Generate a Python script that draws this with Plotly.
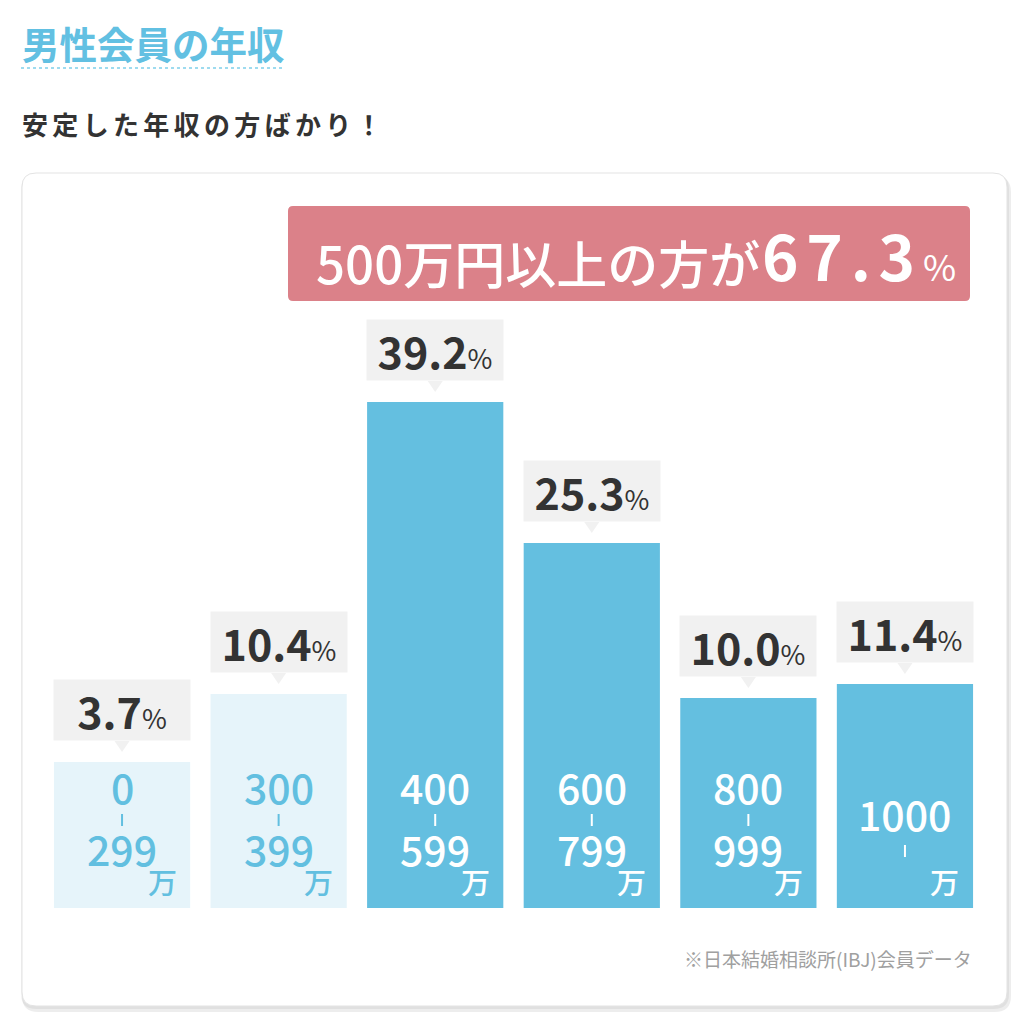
import plotly.graph_objects as go

#### datos: distribucion del ingreso anual de los socios
brackets = ["0〜299万", "300〜399万", "400〜599万", "600〜799万", "800〜999万", "1000万〜"]
low_labels = ["0", "300", "400", "600", "800", "1000"]
high_labels = ["299", "399", "599", "799", "999", ""]
shares = [3.7, 10.4, 39.2, 25.3, 10.0, 11.4]
highlight = [False, False, True, True, True, True]
banner_label = "500万円以上の方が"
banner_share = "67.3"

OFF = 8              # margen del body en la pagina html
W, H = 1024 - OFF, 1019 - OFF
FONT = "Noto Sans CJK JP"
BLUE = "#64bfe0"
LIGHT = "#e6f4fa"
PXU = 10.14          # pixeles por punto porcentual
FOOT = 10.7          # pie fijo de cada barra (zona del rango de ingresos)
Y_BOTTOM, Y_TOP = 908, 180
SP = "\u200a\u200a"  # espaciado entre letras del banner


def fx(x):
    return (x - OFF) / W


def fy(y):
    return 1 - (y - OFF) / H


def rrect(x0, y0, x1, y1, r):
    ## rectangulo redondeado en coordenadas de papel a partir de pixeles
    pts = [
        f"M {fx(x0 + r)},{fy(y0)}",
        f"L {fx(x1 - r)},{fy(y0)}",
        f"Q {fx(x1)},{fy(y0)} {fx(x1)},{fy(y0 + r)}",
        f"L {fx(x1)},{fy(y1 - r)}",
        f"Q {fx(x1)},{fy(y1)} {fx(x1 - r)},{fy(y1)}",
        f"L {fx(x0 + r)},{fy(y1)}",
        f"Q {fx(x0)},{fy(y1)} {fx(x0)},{fy(y1 - r)}",
        f"L {fx(x0)},{fy(y0 + r)}",
        f"Q {fx(x0)},{fy(y0)} {fx(x0 + r)},{fy(y0)}",
        "Z",
    ]
    return " ".join(pts)


bar_colors = [BLUE if h else LIGHT for h in highlight]
text_colors = ["white" if h else "#62bfe0" for h in highlight]

fig = go.Figure()
fig.add_trace(go.Bar(
    x=brackets,
    y=[v + FOOT for v in shares],
    base=-FOOT,
    width=0.87,
    marker=dict(color=bar_colors, line=dict(width=0)),
    hoverinfo="skip",
))

shapes = []
## tarjeta con sombra
shapes.append(dict(type="path", xref="paper", yref="paper", layer="below",
                   path=rrect(22, 176, 1011, 1012, 16), fillcolor="rgba(0,0,0,0.07)", line=dict(width=0)))
shapes.append(dict(type="path", xref="paper", yref="paper", layer="below",
                   path=rrect(21, 174, 1009, 1009, 15), fillcolor="rgba(0,0,0,0.05)", line=dict(width=0)))
shapes.append(dict(type="path", xref="paper", yref="paper", layer="below",
                   path=rrect(22, 173, 1007, 1006, 14), fillcolor="white", line=dict(color="#e3e3e3", width=1)))
## banner rosado
shapes.append(dict(type="path", xref="paper", yref="paper", layer="below",
                   path=rrect(288, 206, 970, 301, 5), fillcolor="#db8189", line=dict(width=0)))
## subrayado punteado del titulo
shapes.append(dict(type="line", xref="paper", yref="paper",
                   x0=fx(21), x1=fx(284), y0=fy(68), y1=fy(68),
                   line=dict(color="#7fd0ea", width=1.5, dash="3px,3px")))

annotations = []
for i, cat in enumerate(brackets):
    top = shares[i]
    ## caja gris con el porcentaje
    annotations.append(dict(
        x=cat, y=top, xref="x", yref="y", xanchor="center", yanchor="bottom",
        yshift=21, width=136, height=60, bgcolor="#f1f1f1", borderpad=0,
        showarrow=False, align="center", valign="middle",
        text=f"<b>{shares[i]:.1f}</b><span style='font-size:27px'>%</span>",
        font=dict(family=FONT, size=43, color="#333333"),
    ))
    ## flecha de la caja
    shapes.append(dict(
        type="path", xref="x", yref="y",
        path=f"M {i - 0.048},{top + 21 / PXU} L {i + 0.048},{top + 21 / PXU} L {i},{top + 10 / PXU} Z",
        fillcolor="#f1f1f1", line=dict(width=0),
    ))
    ## rango de ingresos dentro de la barra
    col = text_colors[i]
    if high_labels[i]:
        shifts = (122, 88, 60)
    else:
        shifts = (95, 57, None)
    annotations.append(dict(x=cat, y=-FOOT, xref="x", yref="y", yanchor="middle", yshift=shifts[0],
                            showarrow=False, text=low_labels[i],
                            font=dict(family=FONT, size=41, color=col, weight=500)))
    ## guion vertical entre los dos limites
    shapes.append(dict(type="line", xref="x", yref="y", x0=i, x1=i,
                       y0=-FOOT + (shifts[1] - 6) / PXU, y1=-FOOT + (shifts[1] + 6) / PXU,
                       line=dict(color=col, width=2)))
    if shifts[2] is not None:
        annotations.append(dict(x=cat, y=-FOOT, xref="x", yref="y", yanchor="middle", yshift=shifts[2],
                                showarrow=False, text=high_labels[i],
                                font=dict(family=FONT, size=41, color=col, weight=500)))
    annotations.append(dict(x=cat, y=-FOOT, xref="x", yref="y", yanchor="middle", yshift=27, xshift=40,
                            showarrow=False, text="万",
                            font=dict(family=FONT, size=29, color=col, weight=500)))

## titulo y subtitulo
annotations.append(dict(x=fx(20), y=fy(42), xref="paper", yref="paper", xanchor="left", yanchor="middle",
                        showarrow=False, text="<b>男性会員の年収</b>",
                        font=dict(family=FONT, size=37.5, color="#62c0e2")))
annotations.append(dict(x=fx(20), y=fy(123), xref="paper", yref="paper", xanchor="left", yanchor="middle",
                        showarrow=False, text="<b>" + "\u2006".join("安定した年収の方ばかり！") + "</b>",
                        font=dict(family=FONT, size=26, color="#333333")))
## texto del banner
annotations.append(dict(x=fx(314), y=fy(262), xref="paper", yref="paper", xanchor="left", yanchor="middle",
                        showarrow=False, text=banner_label,
                        font=dict(family=FONT, size=51, color="white", weight=500)))
annotations.append(dict(x=fx(760), y=fy(254), xref="paper", yref="paper", xanchor="left", yanchor="middle",
                        showarrow=False,
                        text="<b>" + SP.join(banner_share) + "</b>" + SP + "<span style='font-size:36px'>%</span>",
                        font=dict(family=FONT, size=62, color="white")))
## fuente de los datos
annotations.append(dict(x=fx(974), y=fy(958), xref="paper", yref="paper", xanchor="right", yanchor="middle",
                        showarrow=False, text="※日本結婚相談所(IBJ)会員データ",
                        font=dict(family=FONT, size=19, color="#a0a0a0")))

fig.update_layout(
    width=W, height=H,
    margin=dict(l=0, r=0, t=0, b=0),
    paper_bgcolor="white", plot_bgcolor="rgba(0,0,0,0)",
    showlegend=False,
    xaxis=dict(visible=False, type="category", range=[-0.5, 5.5],
               domain=[fx(43.75), fx(983.25)], fixedrange=True),
    yaxis=dict(visible=False, range=[-FOOT, -FOOT + (Y_BOTTOM - Y_TOP) / PXU],
               domain=[fy(Y_BOTTOM), fy(Y_TOP)], fixedrange=True),
    shapes=shapes,
    annotations=annotations,
    font=dict(family=FONT),
)

fig.write_html("out.html")
